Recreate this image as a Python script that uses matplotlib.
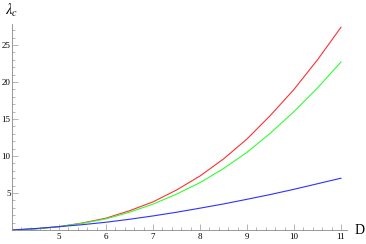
import matplotlib
matplotlib.use("Agg")
import matplotlib.pyplot as plt
import numpy as np
from matplotlib.ticker import MultipleLocator

D = [4.0, 4.5, 5.0, 5.5, 6.0, 6.5, 7.0, 7.5, 8.0, 8.5, 9.0, 9.5, 10.0, 10.5, 11.0]
red = [0.0, 0.15, 0.45, 0.95, 1.6, 2.6, 3.8, 5.4, 7.3, 9.6, 12.3, 15.5, 19.0, 23.0, 27.4]
green = [0.0, 0.15, 0.45, 0.9, 1.5, 2.4, 3.5, 4.85, 6.4, 8.3, 10.5, 13.1, 16.0, 19.2, 22.7]
blue = [0.0, 0.2, 0.45, 0.72, 1.05, 1.45, 1.9, 2.4, 2.95, 3.52, 4.15, 4.8, 5.5, 6.25, 7.0]
xticks = [5, 6, 7, 8, 9, 10, 11]
yticks = [5, 10, 15, 20, 25]

fig = plt.figure(figsize=(3.66, 2.44), dpi=100)
ax = fig.add_axes([12/366, 14/244, (347-12)/366, (230-24)/244])

ax.plot(D, red, color="#ff3030", lw=0.8)
ax.plot(D, green, color="#30ff30", lw=0.8)
ax.plot(D, blue, color="#3030ff", lw=0.8)

ax.set_xlim(4, 4 + (347-12)/47)
ax.set_ylim(0, (230-24)/7.4)
for s in ["top", "right"]:
    ax.spines[s].set_visible(False)
for s in ["left", "bottom"]:
    ax.spines[s].set_color("#888888")
    ax.spines[s].set_linewidth(0.6)

ax.set_xticks(xticks)
ax.set_yticks(yticks)
ax.xaxis.set_minor_locator(MultipleLocator(0.2))
ax.yaxis.set_minor_locator(MultipleLocator(1))
ax.tick_params(which="both", direction="in", color="#999999", width=0.5,
               labelsize=6.5, pad=2, labelfontfamily="Liberation Serif")
ax.tick_params(which="major", length=4)
ax.tick_params(which="minor", length=2)
ax.tick_params(axis="y", pad=1)

fig.text(12/366, 1 - 10/244, r"$\lambda_c$", fontsize=10.5, ha="center", va="center",
         math_fontfamily="stix")
fig.text(360/366, 1 - 230/244, "D", fontsize=10, ha="center", va="center",
         family="Liberation Serif")

fig.savefig("out.png", dpi=100)
